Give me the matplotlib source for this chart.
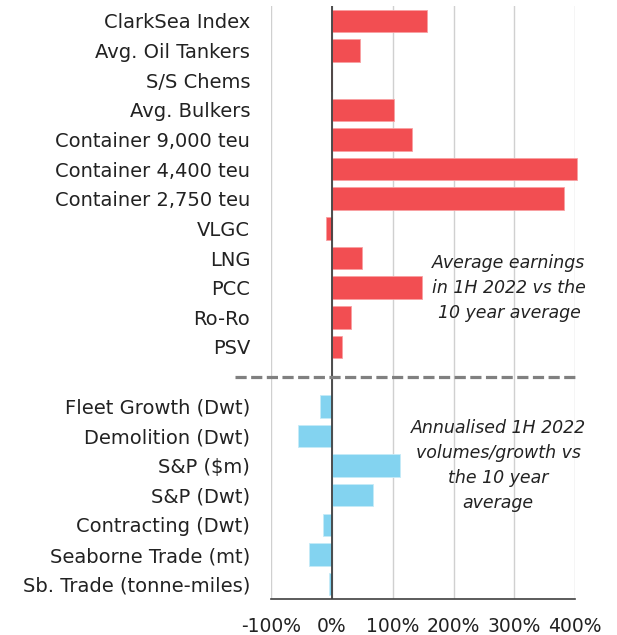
import matplotlib
matplotlib.use("Agg")
import matplotlib.pyplot as plt
import matplotlib.transforms as mtransforms

plt.rcParams['font.family'] = ['DejaVu Sans']

earn_labels = ["ClarkSea Index", "Avg. Oil Tankers", "S/S Chems", "Avg. Bulkers",
               "Container 9,000 teu", "Container 4,400 teu", "Container 2,750 teu",
               "VLGC", "LNG", "PCC", "Ro-Ro", "PSV"]
earn_values = [157, 46, -1, 102, 132, 402, 382, -10, 49, 148, 32, 16]

vol_labels = ["Fleet Growth (Dwt)", "Demolition (Dwt)", "S&P ($m)", "S&P (Dwt)",
              "Contracting (Dwt)", "Seaborne Trade (mt)", "Sb. Trade (tonne-miles)"]
vol_values = [-19, -56, 112, 67, -15, -38, -5]

xticks = [-100, 0, 100, 200, 300, 400]
xtick_labels = ["-100%", "0%", "100%", "200%", "300%", "400%"]

red = "#F24E52"
blue = "#83D3F0"

fig = plt.figure(figsize=(6.17, 6.35), dpi=100)
ax = fig.add_axes([271/617, 36/635, (575.3-271)/617, 593/635])

n_e = len(earn_labels)
y_e = list(range(n_e))
y_v = [n_e + 1 + i for i in range(len(vol_labels))]

b1 = ax.barh(y_e, earn_values, height=0.76, color=red, edgecolor="#F8A0A2", linewidth=0.6, zorder=3)
b2 = ax.barh(y_v, vol_values, height=0.76, color=blue, edgecolor="#C5EBF8", linewidth=0.6, zorder=3)
for b in list(b1) + list(b2):
    b.set_clip_on(False)

ax.set_xlim(-100, 400)
ax.set_ylim(n_e + len(vol_labels) + 0.5, -0.5)

ax.set_yticks(y_e + y_v)
ax.set_yticklabels(earn_labels + vol_labels, fontsize=14, color="#222222")
ax.set_xticks(xticks)
ax.set_xticklabels(xtick_labels, fontsize=13.5, color="#222222")
ax.tick_params(axis="y", length=0, pad=15)
ax.tick_params(axis="x", length=0, pad=13)

ax.grid(axis="x", color="#D0D0D0", linewidth=1.0, zorder=0)
ax.set_axisbelow(True)
for s in ["top", "right", "left"]:
    ax.spines[s].set_visible(False)
ax.spines["bottom"].set_color("#404040")
ax.spines["bottom"].set_linewidth(1.2)

ax.axvline(0, color="#404040", linewidth=1.3, zorder=4)

trans = mtransforms.blended_transform_factory(ax.transAxes, ax.transData)
ax.plot([-0.118, 1.0], [n_e, n_e], transform=trans, clip_on=False,
        color="#808080", linewidth=2.3, dashes=(3.5, 1.4), zorder=5)

ax.text(291, 9, "Average earnings\nin 1H 2022 vs the\n10 year average",
        ha="center", va="center", fontsize=12.5, style="italic",
        color="#222222", linespacing=1.5)
ax.text(273, 15, "Annualised 1H 2022\nvolumes/growth vs\nthe 10 year\naverage",
        ha="center", va="center", fontsize=12.5, style="italic",
        color="#222222", linespacing=1.5)

fig.savefig("out.png", dpi=100)
